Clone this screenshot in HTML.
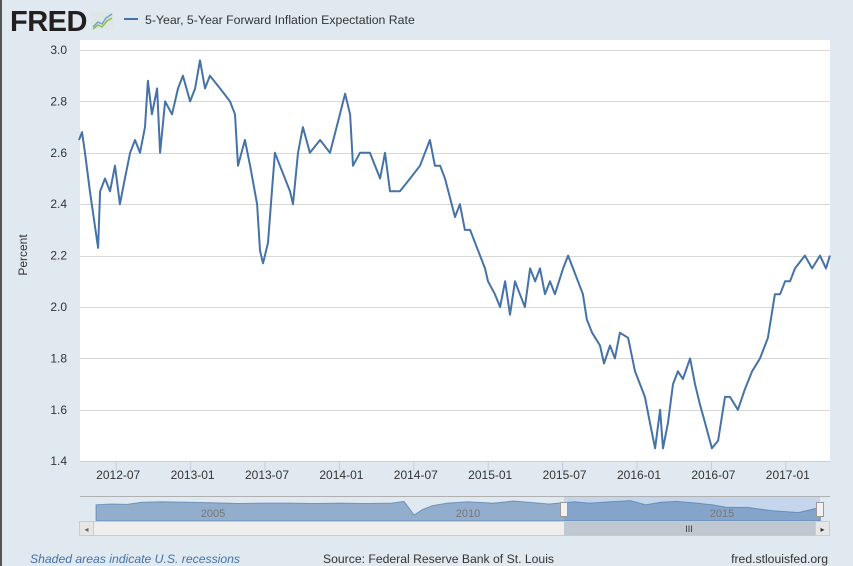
<!DOCTYPE html>
<html><head><meta charset="utf-8"><style>
body{margin:0;width:853px;height:566px;background:#e1e9f0;font-family:"Liberation Sans",sans-serif;overflow:hidden;position:relative}
</style></head><body>
<div style="position:absolute;left:0;top:0;width:2px;height:566px;background:#555"></div>
<svg width="853" height="566" style="position:absolute;left:0;top:0">
 <text x="10" y="31" font-size="29" font-weight="bold" fill="#231f20" font-family="Liberation Sans" letter-spacing="-0.5">FRED</text>
 <g>
  <rect x="91" y="12" width="23" height="18" fill="#dfe6e6" rx="1"/>
  <polyline points="93,27 98,22 102,24 106,18 112,14" fill="none" stroke="#6fa4c8" stroke-width="1.5"/>
  <polyline points="93,29 98,25 102,27 107,21 112,18" fill="none" stroke="#8bbf4a" stroke-width="1.5"/>
 </g>
 <line x1="124" y1="19" x2="138" y2="19" stroke="#4572a7" stroke-width="2"/>
 <text x="145" y="24" font-size="12.3" fill="#333">5-Year, 5-Year Forward Inflation Expectation Rate</text>
 <rect x="80" y="40" width="750" height="421" fill="#fff"/>
 <g id="grid"></g><g id="yt"></g><g id="xt"></g>
 <text transform="translate(27,255) rotate(-90)" text-anchor="middle" font-size="12" fill="#333">Percent</text>
 <path id="series" fill="none" stroke="#4572a7" stroke-width="2" stroke-linejoin="round"/>
 <line x1="80" y1="461.5" x2="830" y2="461.5" stroke="#c0d0e0"/>
 <g>
  <line x1="80" y1="496.5" x2="830" y2="496.5" stroke="#b0b0b0"/>
  <rect x="564" y="497" width="256" height="24" fill="#c5d6ec"/>
  <path id="navfill" fill="#4572a7" fill-opacity="0.5" stroke="#4572a7" stroke-opacity="0.6" stroke-width="1"/>
  <text x="213" y="517" font-size="11" fill="#777" text-anchor="middle">2005</text>
  <text x="468" y="517" font-size="11" fill="#777" text-anchor="middle">2010</text>
  <text x="722" y="517" font-size="11" fill="#777" text-anchor="middle">2015</text>
  <rect x="560.5" y="502.5" width="7" height="14" fill="#f2f2f2" stroke="#999"/>
  <rect x="816.5" y="502.5" width="7" height="14" fill="#f2f2f2" stroke="#999"/>
  <rect x="79.5" y="521.5" width="750" height="14" fill="#eee" stroke="#ccc"/>
  <rect x="564" y="521.5" width="256" height="14" fill="#bfc8d1"/>
  <text x="689" y="532" font-size="9" fill="#333" text-anchor="middle">III</text>
  <rect x="79.5" y="521.5" width="14" height="14" fill="#e6e6e6" stroke="#ccc"/>
  <text x="86.5" y="532" font-size="8" fill="#666" text-anchor="middle">◂</text>
  <rect x="815.5" y="521.5" width="14" height="14" fill="#e6e6e6" stroke="#ccc"/>
  <text x="822.5" y="532" font-size="8" fill="#333" text-anchor="middle">▸</text>
 </g>
 <text x="30" y="563" font-size="12.2" font-style="italic" fill="#4572a7">Shaded areas indicate U.S. recessions</text>
 <text x="323" y="563" font-size="12.2" fill="#333">Source: Federal Reserve Bank of St. Louis</text>
 <text x="828" y="563" font-size="12.2" fill="#333" text-anchor="end">fred.stlouisfed.org</text>
</svg>
<script>
// time in 2-month units since 2012-04-01
const periods=[0,0.12,0.24,0.44,0.77,0.85,1.05,1.25,1.45,1.65,1.85,2.06,2.26,2.46,2.66,2.78,2.94,3.15,3.27,3.47,3.75,3.99,4.19,4.48,4.68,4.88,5.08,5.28,5.69,6.09,6.29,6.41,6.69,6.90,7.18,7.30,7.42,7.62,7.78,7.90,8.10,8.51,8.63,8.83,9.03,9.31,9.72,10.12,10.52,10.73,10.93,11.05,11.33,11.73,12.14,12.34,12.54,12.94,13.35,13.75,14.15,14.35,14.56,14.76,15.16,15.36,15.56,15.77,15.97,16.37,16.49,16.77,16.98,17.18,17.38,17.58,17.78,17.98,18.19,18.39,18.59,18.79,18.99,19.19,19.52,19.72,19.92,20.12,20.32,20.48,20.69,21.01,21.17,21.41,21.61,21.81,22.14,22.42,22.62,22.82,23.02,23.23,23.43,23.55,23.75,23.95,24.15,24.35,24.64,24.84,25.04,25.24,25.52,25.77,26.05,26.25,26.57,26.85,27.14,27.46,27.78,28.06,28.27,28.47,28.67,28.87,29.27,29.56,29.88,30.12,30.28];
const rates=[2.65,2.68,2.6,2.45,2.23,2.45,2.5,2.45,2.55,2.4,2.5,2.6,2.65,2.6,2.7,2.88,2.75,2.85,2.6,2.8,2.75,2.85,2.9,2.8,2.85,2.96,2.85,2.9,2.85,2.8,2.75,2.55,2.65,2.55,2.4,2.22,2.17,2.25,2.45,2.6,2.55,2.45,2.4,2.6,2.7,2.6,2.65,2.6,2.75,2.83,2.75,2.55,2.6,2.6,2.5,2.6,2.45,2.45,2.5,2.55,2.65,2.55,2.55,2.5,2.35,2.4,2.3,2.3,2.25,2.15,2.1,2.05,2.0,2.1,1.97,2.1,2.05,2.0,2.15,2.1,2.15,2.05,2.1,2.05,2.15,2.2,2.15,2.1,2.05,1.95,1.9,1.85,1.78,1.85,1.8,1.9,1.88,1.75,1.7,1.65,1.55,1.45,1.6,1.45,1.55,1.7,1.75,1.72,1.8,1.7,1.62,1.55,1.45,1.48,1.65,1.65,1.6,1.68,1.75,1.8,1.88,2.05,2.05,2.1,2.1,2.15,2.2,2.15,2.2,2.15,2.2];
const yTicks=[1.4,1.6,1.8,2.0,2.2,2.4,2.6,2.8,3.0];
const xTickLabels=["2012-07","2013-01","2013-07","2014-01","2014-07","2015-01","2015-07","2016-01","2016-07","2017-01"];
const xTickPeriods=[1.5,4.5,7.5,10.5,13.5,16.5,19.5,22.5,25.5,28.5];
const navYears=[2002.7,2003,2003.3,2003.6,2004,2004.5,2005,2005.5,2006,2006.5,2007,2007.5,2008,2008.5,2008.75,2008.85,2008.95,2009.1,2009.3,2009.6,2010,2010.5,2010.9,2011.2,2011.6,2011.8,2012.1,2012.4,2012.8,2013.2,2013.5,2013.8,2014.1,2014.5,2014.8,2015.1,2015.5,2016,2016.5,2016.93];
const navRates=[2.4,2.5,2.45,2.7,2.75,2.7,2.65,2.55,2.6,2.6,2.55,2.6,2.55,2.6,2.8,2.0,1.2,1.8,2.3,2.6,2.75,2.6,2.85,2.7,2.5,2.6,2.75,2.6,2.75,2.9,2.4,2.7,2.8,2.6,2.4,2.1,2.1,1.7,1.5,2.1];
const NS="http://www.w3.org/2000/svg";
const xm=p=>79+p*24.8;
const Y=v=>50+(3.0-v)/0.2*51.4;
const grid=document.getElementById('grid'),yt=document.getElementById('yt'),xt=document.getElementById('xt');
yTicks.forEach(v=>{
 const l=document.createElementNS(NS,'line');
 l.setAttribute('x1',80);l.setAttribute('x2',830);l.setAttribute('y1',Math.round(Y(v))+0.5);l.setAttribute('y2',Math.round(Y(v))+0.5);
 l.setAttribute('stroke','#d8d8d8');
 
 
 grid.appendChild(l);
 const t=document.createElementNS(NS,'text');
 t.setAttribute('x',67);t.setAttribute('y',Y(v)+4);t.setAttribute('text-anchor','end');t.setAttribute('font-size','12');t.setAttribute('fill','#333');
 t.textContent=v.toFixed(1);
 
 
 yt.appendChild(t);
});
xTickLabels.forEach((s,i)=>{
 const x=xm(xTickPeriods[i]);
 const l=document.createElementNS(NS,'line');
 l.setAttribute('x1',x);l.setAttribute('x2',x);l.setAttribute('y1',461);l.setAttribute('y2',471);l.setAttribute('stroke','#c0d0e0');
 
 
 xt.appendChild(l);
 const t=document.createElementNS(NS,'text');
 t.setAttribute('x',x+2);t.setAttribute('y',479);t.setAttribute('text-anchor','middle');t.setAttribute('font-size','12');t.setAttribute('fill','#333');
 t.textContent=s;
 
 
 xt.appendChild(t);
});
document.getElementById('series').setAttribute('d',periods.map((p,i)=>(i?'L':'M')+xm(p).toFixed(1)+','+Y(rates[i]).toFixed(1)).join(''));
const NX=y=>94+(y-2002.66)*50.9, NY=v=>521-(v-0.5)/2.7*23;
let d='M'+NX(navYears[0])+',521';
navYears.forEach((y,i)=>d+='L'+NX(y).toFixed(1)+','+NY(navRates[i]).toFixed(1));
d+='L'+NX(navYears[navYears.length-1])+',521Z';
document.getElementById('navfill').setAttribute('d',d);
</script>
</body></html>
